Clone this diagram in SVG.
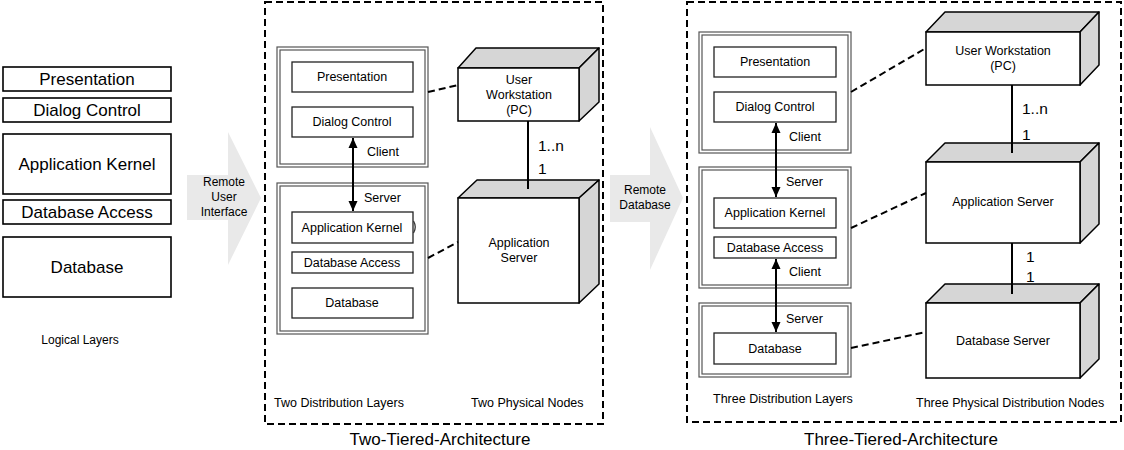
<svg xmlns="http://www.w3.org/2000/svg" width="1124" height="450" viewBox="0 0 1124 450">
<style>
text{font-family:"Liberation Sans",Arial,Helvetica,sans-serif;fill:#000}
.lay{font-size:17px;text-anchor:middle}
.sm{font-size:12.5px;text-anchor:middle}
.lbl{font-size:12.5px}
.rem{font-size:12px;text-anchor:middle}
.mult{font-size:15.5px}
.ttl{font-size:17px;text-anchor:middle}
.box{fill:#fff;stroke:#000;stroke-width:1.6}
.ib{fill:#fff;stroke:#222;stroke-width:1.3}
.pk{fill:none;stroke:#555;stroke-width:1.2}
.face{fill:#fff;stroke:#000;stroke-width:1.5}
.side{fill:#d6d6d6;stroke:#000;stroke-width:1.5;stroke-linejoin:round}
.dbox{fill:none;stroke:#000;stroke-width:2;stroke-dasharray:7,4}
.dl{fill:none;stroke:#000;stroke-width:2;stroke-dasharray:7,4}
.sl{fill:none;stroke:#000;stroke-width:2}
.big{fill:#e9e9e9;stroke:none}
</style>
<defs>
<marker id="ah" viewBox="0 0 10 10" refX="10" refY="5" markerWidth="10" markerHeight="10" orient="auto-start-reverse" markerUnits="userSpaceOnUse">
<path d="M0,0.5 L10,5 L0,9.5 z" fill="#000"/>
</marker>
</defs>
<rect width="1124" height="450" fill="#fff"/>

<!-- Logical layers -->
<g id="logical-layers">
<g id="ll-presentation"><rect class="box" x="3" y="67" width="168" height="24"/><text class="lay" x="87" y="85">Presentation</text></g>
<g id="ll-dialog"><rect class="box" x="3" y="98" width="168" height="24"/><text class="lay" x="87" y="116">Dialog Control</text></g>
<g id="ll-kernel"><rect class="box" x="3" y="134" width="168" height="60"/><text class="lay" x="87" y="170">Application Kernel</text></g>
<g id="ll-dbaccess"><rect class="box" x="3" y="200" width="168" height="24"/><text class="lay" x="87" y="218">Database Access</text></g>
<g id="ll-database"><rect class="box" x="3" y="237" width="168" height="60"/><text class="lay" x="87" y="273">Database</text></g>
<text class="rem" x="80" y="344">Logical Layers</text>
</g>

<!-- Big arrows -->
<g id="arrow-rui">
<path class="big" d="M187,175 L228,175 L228,132 L261,198 L228,265 L228,220 L187,220 z"/>
<text class="rem" x="224" y="186">Remote</text>
<text class="rem" x="224" y="201">User</text>
<text class="rem" x="224" y="216">Interface</text>
</g>
<g id="arrow-rdb">
<path class="big" d="M610,175 L650,175 L650,127 L683,198 L650,270 L650,222 L610,222 z"/>
<text class="rem" x="645" y="194">Remote</text>
<text class="rem" x="645" y="209">Database</text>
</g>

<!-- Two-tier -->
<g id="two-tier">
<rect class="dbox" x="265" y="2" width="338" height="422"/>
<text class="lbl" x="274" y="407">Two Distribution Layers</text>
<text class="lbl" x="471" y="407">Two Physical Nodes</text>
<text class="ttl" x="440" y="445">Two-Tiered-Architecture</text>
</g>
<g id="t2-client">
<rect class="pk" x="277" y="47" width="151" height="120"/>
<rect class="pk" x="280" y="50" width="145" height="114"/>
<rect class="ib" x="292" y="62" width="121" height="30"/><text class="sm" x="352" y="81">Presentation</text>
<rect class="ib" x="292" y="107" width="121" height="30"/><text class="sm" x="352" y="126">Dialog Control</text>
<text class="lbl" x="367" y="156">Client</text>
</g>
<g id="t2-server">
<rect class="pk" x="277" y="183" width="151" height="151"/>
<rect class="pk" x="280" y="186" width="145" height="145"/>
<text class="lbl" x="364" y="202">Server</text>
<rect class="ib" x="292" y="212" width="121" height="31"/><text class="sm" x="352" y="232">Application Kernel</text>
<path d="M413.5,221 Q417,227 413.5,233" fill="none" stroke="#333" stroke-width="1.3"/>
<rect class="ib" x="292" y="252" width="121" height="21"/><text class="sm" x="352" y="267">Database Access</text>
<rect class="ib" x="292" y="288" width="121" height="30"/><text class="sm" x="352" y="307">Database</text>
</g>
<g id="t2-workstation">
<path class="side" d="M458,68 L476,48 L599,48 L579,68 z"/>
<path class="side" d="M579,68 L599,48 L599,102 L579,121 z"/>
<rect class="face" x="458" y="68" width="121" height="53"/>
<text class="sm" x="519" y="84">User</text>
<text class="sm" x="519" y="99">Workstation</text>
<text class="sm" x="519" y="114">(PC)</text>
</g>
<g id="t2-appserver">
<path class="side" d="M458,198 L477,180 L599,180 L579,198 z"/>
<path class="side" d="M579,198 L599,180 L599,284 L579,303 z"/>
<rect class="face" x="458" y="198" width="121" height="105"/>
<text class="sm" x="519" y="247">Application</text>
<text class="sm" x="519" y="262">Server</text>
</g>

<!-- Three-tier -->
<g id="three-tier">
<rect class="dbox" x="687" y="2" width="434" height="420"/>
<text class="lbl" x="713" y="403">Three Distribution Layers</text>
<text class="lbl" x="916" y="407">Three Physical Distribution Nodes</text>
<text class="ttl" x="901" y="445">Three-Tiered-Architecture</text>
</g>
<g id="t3-client">
<rect class="pk" x="699" y="32" width="152" height="121"/>
<rect class="pk" x="702" y="35" width="146" height="115"/>
<rect class="ib" x="714" y="47" width="122" height="30"/><text class="sm" x="775" y="66">Presentation</text>
<rect class="ib" x="714" y="92" width="122" height="30"/><text class="sm" x="775" y="111">Dialog Control</text>
<text class="lbl" x="789" y="141">Client</text>
</g>
<g id="t3-middle">
<rect class="pk" x="699" y="167" width="152" height="121"/>
<rect class="pk" x="702" y="170" width="146" height="115"/>
<text class="lbl" x="786" y="186">Server</text>
<rect class="ib" x="714" y="198" width="122" height="30"/><text class="sm" x="775" y="217">Application Kernel</text>
<rect class="ib" x="714" y="237" width="122" height="21"/><text class="sm" x="775" y="252">Database Access</text>
<text class="lbl" x="789" y="276">Client</text>
</g>
<g id="t3-dbserver-pkg">
<rect class="pk" x="699" y="303" width="152" height="74"/>
<rect class="pk" x="702" y="306" width="146" height="68"/>
<text class="lbl" x="786" y="323">Server</text>
<rect class="ib" x="714" y="333" width="122" height="31"/><text class="sm" x="775" y="353">Database</text>
</g>
<g id="t3-workstation">
<path class="side" d="M926,32 L945,12 L1099,12 L1080,32 z"/>
<path class="side" d="M1080,32 L1099,12 L1099,65 L1080,85 z"/>
<rect class="face" x="926" y="32" width="154" height="53"/>
<text class="sm" x="1003" y="55">User Workstation</text>
<text class="sm" x="1003" y="70">(PC)</text>
</g>
<g id="t3-appserver">
<path class="side" d="M926,162 L945,143 L1099,143 L1080,162 z"/>
<path class="side" d="M1080,162 L1099,143 L1099,224 L1080,243 z"/>
<rect class="face" x="926" y="162" width="154" height="81"/>
<text class="sm" x="1003" y="206">Application Server</text>
</g>
<g id="t3-dbserver">
<path class="side" d="M926,303 L945,284 L1099,284 L1080,303 z"/>
<path class="side" d="M1080,303 L1099,284 L1099,359 L1080,378 z"/>
<rect class="face" x="926" y="303" width="154" height="75"/>
<text class="sm" x="1003" y="345">Database Server</text>
</g>

<!-- Connectors -->
<g id="connectors">
<line class="sl" x1="353" y1="138" x2="353" y2="211" marker-start="url(#ah)" marker-end="url(#ah)"/>
<line class="dl" x1="428" y1="92" x2="458" y2="85"/>
<line class="dl" x1="428" y1="258" x2="458" y2="242"/>
<line class="sl" x1="528" y1="121" x2="528" y2="189"/>
<text class="mult" x="538" y="151">1..n</text>
<text class="mult" x="538" y="174">1</text>

<line class="sl" x1="776" y1="123" x2="776" y2="197" marker-start="url(#ah)" marker-end="url(#ah)"/>
<line class="sl" x1="776" y1="259" x2="776" y2="332" marker-start="url(#ah)" marker-end="url(#ah)"/>
<line class="dl" x1="851" y1="92" x2="926" y2="48"/>
<line class="dl" x1="851" y1="228" x2="926" y2="193"/>
<line class="dl" x1="851" y1="348" x2="926" y2="332"/>
<line class="sl" x1="1012" y1="85" x2="1012" y2="153"/>
<text class="mult" x="1022" y="114">1..n</text>
<text class="mult" x="1022" y="140">1</text>
<line class="sl" x1="1012" y1="243" x2="1012" y2="294"/>
<text class="mult" x="1026" y="262">1</text>
<text class="mult" x="1026" y="282">1</text>
</g>
</svg>
